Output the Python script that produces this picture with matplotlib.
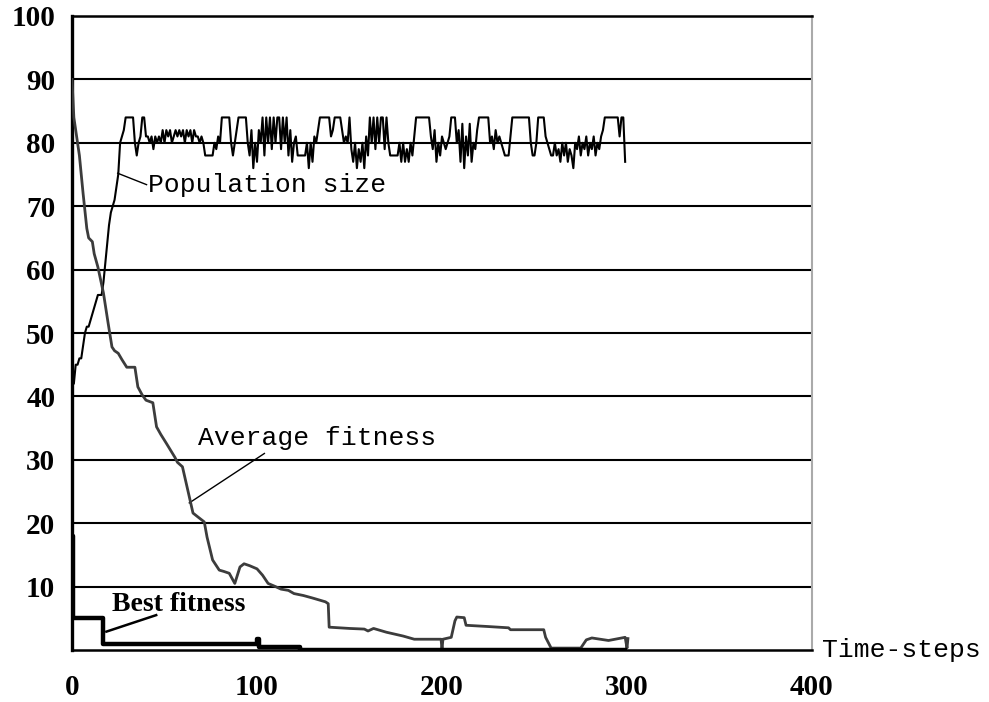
import matplotlib
matplotlib.use("Agg")
import matplotlib.pyplot as plt

# ---------------- data ----------------
population_size = [
    42, 42, 45, 45, 46, 46, 48, 50, 51, 51, 52, 53, 54, 55, 56, 56, 56, 58, 61, 64,
    67, 69, 70, 71, 73, 75, 80, 81, 82, 84, 84, 84, 84, 84, 80, 78, 80, 81, 84, 84,
    81, 81, 80, 81, 79, 81, 80, 81, 80, 82, 80, 82, 81, 82, 80, 81, 82, 81, 82, 81,
    82, 80, 82, 81, 82, 80, 82, 81, 81, 80, 81, 80, 78, 78, 78, 78, 78, 80, 79, 81,
    80, 84, 84, 84, 84, 84, 80, 78, 80, 82, 84, 84, 84, 84, 84, 80, 78, 82, 76, 80,
    77, 82, 80, 84, 78, 84, 80, 84, 79, 84, 80, 84, 84, 79, 84, 80, 84, 78, 82, 77,
    80, 81, 78, 78, 78, 78, 78, 80, 76, 80, 77, 81, 80, 82, 84, 84, 84, 84, 84, 84,
    81, 82, 84, 84, 84, 84, 82, 80, 81, 80, 84, 79, 77, 80, 76, 79, 77, 80, 76, 81,
    78, 84, 80, 84, 79, 84, 80, 84, 84, 79, 84, 80, 78, 78, 78, 78, 78, 80, 77, 80,
    77, 79, 77, 80, 78, 81, 84, 84, 84, 84, 84, 84, 84, 84, 81, 79, 82, 77, 80, 78,
    81, 80, 79, 80, 81, 84, 84, 84, 80, 82, 77, 83, 76, 81, 78, 83, 77, 80, 79, 82,
    84, 84, 84, 84, 84, 84, 80, 81, 79, 82, 80, 81, 80, 79, 78, 78, 78, 81, 84, 84,
    84, 84, 84, 84, 84, 84, 84, 84, 80, 78, 78, 80, 84, 84, 84, 84, 81, 80, 79, 78,
    78, 80, 78, 79, 77, 80, 78, 80, 77, 79, 78, 76, 80, 79, 81, 78, 80, 79, 81, 78,
    80, 79, 81, 78, 80, 79, 81, 82, 84, 84, 84, 84, 84, 84, 84, 84, 81, 84, 84, 77,
]
pop_steps = list(range(len(population_size)))

avg_steps = [0, 1, 2, 4, 6, 8, 9, 11, 12, 14, 17, 19.5, 21.6, 23, 25, 27, 29.6, 34,
             35.6, 38, 40, 43.7, 45.7, 48, 51, 55.6, 57, 59.7, 62.6, 65.4, 68, 71.5,
             73, 76, 79.6, 82, 85, 88, 90.8, 93, 96, 100, 103, 106, 110, 113, 117, 120,
             125, 130, 137, 138.5, 139, 150, 158, 160, 163, 170, 179, 185, 199.5, 200,
             200.5, 205, 207, 208, 212, 213, 225, 236, 237, 255, 256, 259, 275, 278,
             281, 290, 299, 300, 300.5]
avg_fitness = [90, 84, 82, 78, 72, 66.5, 65, 64.4, 62.5, 60.4, 56.3, 51.6, 47.8, 47.2,
               46.8, 45.8, 44.6, 44.6, 41.5, 40.2, 39.4, 39, 35.2, 34.0, 32.6, 30.4,
               29.6, 28.9, 25.2, 21.6, 21.0, 20.2, 17.8, 14.2, 12.6, 12.4, 12.1, 10.5,
               13.1, 13.6, 13.3, 12.8, 11.8, 10.5, 10.0, 9.6, 9.4, 8.9, 8.6, 8.2, 7.6,
               7.3, 3.6, 3.4, 3.3, 3.0, 3.4, 2.8, 2.2, 1.7, 1.7, 0.1, 1.7, 2.0, 4.6, 5.2,
               5.1, 3.9, 3.7, 3.5, 3.2, 3.2, 2.0, 0.3, 0.3, 1.6, 1.9, 1.5, 2.0, 0.3, 1.8]

best_steps = [0, 0.5, 17, 100, 101, 123, 300]
best_fitness = [18, 5, 1, 1.8, 0.4, 0, 0]

x_ticks = [0, 100, 200, 300, 400]
y_ticks = [10, 20, 30, 40, 50, 60, 70, 80, 90, 100]

# ---------------- figure ----------------
fig = plt.figure(figsize=(9.89, 7.02), dpi=100)
ax = fig.add_axes([72 / 989, 52 / 702, (812 - 72) / 989, (650 - 16) / 702])
ax.set_xlim(0, 400)
ax.set_ylim(0, 100)

for v in y_ticks[:-1]:
    ax.axhline(v, color="black", lw=1.5, zorder=1)

ax.plot(pop_steps, population_size, color="black", lw=1.5, zorder=3)
ax.plot(avg_steps, avg_fitness, color="#3c3c3c", lw=2.0, zorder=3)
ax.plot(best_steps, best_fitness, color="black", lw=3.2, drawstyle="steps-post",
        zorder=4, solid_capstyle="butt")

mono = "Liberation Mono"
serif = "Liberation Serif"

ax.text(41, 73.3, "Population size", family=mono, fontsize=19, va="center", ha="left")
ax.plot([24.7, 40.3], [75.2, 73.4], color="black", lw=1.0)

ax.text(68, 33.4, "Average fitness", family=mono, fontsize=19, va="center", ha="left")
ax.plot([63.4, 104], [23.2, 31], color="black", lw=1.0)

ax.text(21.5, 7.2, "Best fitness", family=serif, fontweight="bold", fontsize=20,
        va="center", ha="left")
ax.plot([18.6, 45.5], [2.9, 5.5], color="black", lw=1.8)

ax.text(1.013, 0.0, "Time-steps", family=mono, fontsize=19, va="center", ha="left",
        transform=ax.transAxes, clip_on=False)

ax.set_xticks(x_ticks)
ax.set_yticks(y_ticks)
ax.set_xticklabels([str(t) for t in x_ticks], family=serif, fontweight="bold", fontsize=21)
ax.set_yticklabels([str(t) for t in y_ticks], family=serif, fontweight="bold", fontsize=21)
ax.tick_params(axis="x", length=0, pad=17)
ax.tick_params(axis="y", length=0, pad=12)

for side in ["left", "bottom", "top"]:
    ax.spines[side].set_color("black")
    ax.spines[side].set_linewidth(1.8)
ax.spines["left"].set_linewidth(2.4)
ax.spines["right"].set_color("#aaaaaa")
ax.spines["right"].set_linewidth(1.5)

fig.savefig("out.png", dpi=100)
